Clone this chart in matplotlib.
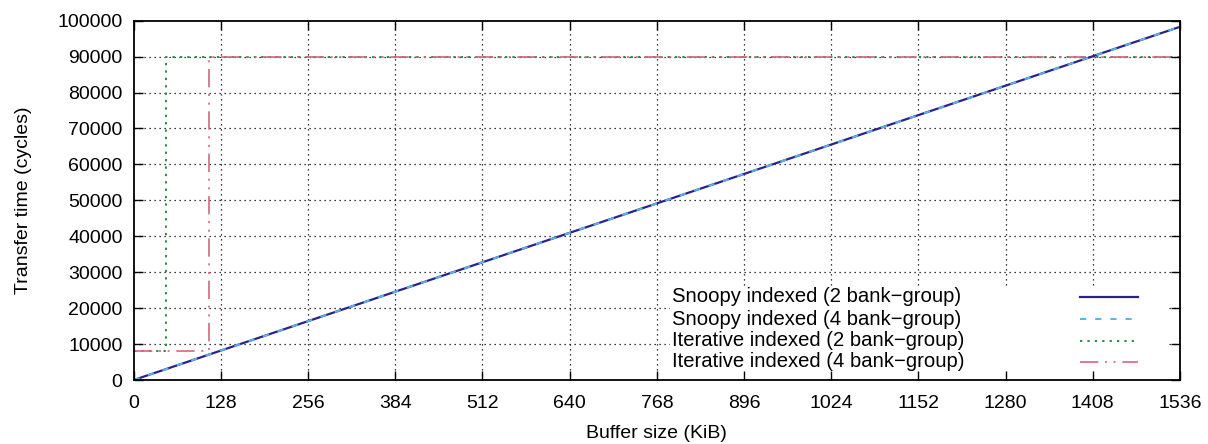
import matplotlib
matplotlib.use("Agg")
import matplotlib.pyplot as plt
from matplotlib.lines import Line2D
from matplotlib.patches import Rectangle

plt.rcParams['font.family'] = ['Liberation Sans', 'DejaVu Sans']

# Buffer sizes (KiB) and transfer times (cycles)
buffer_kib = [0, 128, 256, 384, 512, 640, 768, 896, 1024, 1152, 1280, 1408, 1536]
snoopy_2bg = [0, 8192, 16384, 24576, 32768, 40960, 49152, 57344, 65536,
              73728, 81920, 90112, 98304]
snoopy_4bg = [0, 8192, 16384, 24576, 32768, 40960, 49152, 57344, 65536,
              73728, 81920, 90112, 98304]

iter_2bg_x = [0, 47, 47, 1536]
iter_2bg_y = [8200, 8200, 90000, 90000]
iter_4bg_x = [0, 111, 111, 1536]
iter_4bg_y = [8200, 8200, 90000, 90000]

x_ticks = [0, 128, 256, 384, 512, 640, 768, 896, 1024, 1152, 1280, 1408, 1536]
y_ticks = [0, 10000, 20000, 30000, 40000, 50000, 60000, 70000, 80000, 90000, 100000]

labels = ["Snoopy indexed (2 bank\u2212group)",
          "Snoopy indexed (4 bank\u2212group)",
          "Iterative indexed (2 bank\u2212group)",
          "Iterative indexed (4 bank\u2212group)"]

c_s2 = "#2a238a"
c_s4 = "#5ab4e6"
c_i2 = "#2e8b4a"
c_i4 = "#d4667e"

W, H = 1208, 444
fig = plt.figure(figsize=(W / 100, H / 100), dpi=100)
ax = fig.add_axes([133.7 / W, 1 - 380 / H, (1180 - 133.7) / W, (380 - 20.7) / H])

styles = [
    dict(color=c_s2, lw=1.6, ls="-"),
    dict(color=c_s4, lw=1.4, ls=(0, (3.2, 4.6))),
    dict(color=c_i2, lw=1.4, ls=(0, (1.2, 2.6))),
    dict(color=c_i4, lw=1.2, ls=(0, (11, 4, 1.2, 4, 1.2, 4))),
]

ax.set_xlim(0, 1536)
ax.set_ylim(0, 100000)
ax.set_xticks(x_ticks)
ax.set_yticks(y_ticks)

# dotted grid drawn beneath everything else
grid_style = dict(color="black", ls=(0, (1, 3)), lw=0.9, zorder=1)
for xv in x_ticks[1:-1]:
    ax.axvline(xv, **grid_style)
for yv in y_ticks[1:-1]:
    ax.axhline(yv, **grid_style)

# opaque key background hides the grid behind the key
key_left, key_right, key_top, key_bottom = 670, 1167, 287, 380
ax.add_patch(Rectangle((key_left / W, 1 - key_bottom / H),
                       (key_right - key_left) / W, (key_bottom - key_top) / H,
                       transform=fig.transFigure, facecolor="white",
                       edgecolor="none", zorder=2, clip_on=False))

ax.plot(buffer_kib, snoopy_2bg, **styles[0], zorder=4)
ax.plot(buffer_kib, snoopy_4bg, **styles[1], zorder=5)
ax.plot(iter_2bg_x, iter_2bg_y, **styles[2], zorder=3)
ax.plot(iter_4bg_x, iter_4bg_y, **styles[3], zorder=3)

ax.tick_params(direction="in", length=6.5, width=1, top=True, right=True,
               labelsize=14, colors="black")
ax.tick_params(axis="x", pad=11)
ax.tick_params(axis="y", pad=8)
ax.xaxis.set_zorder(6)
ax.yaxis.set_zorder(6)
for s in ax.spines.values():
    s.set_linewidth(1.3)
    s.set_zorder(7)

ax.set_xlabel("Buffer size (KiB)", fontsize=14, labelpad=9)
ax.set_ylabel("Transfer time (cycles)", fontsize=14, labelpad=18)

# key entries: left-justified text, line sample on the right
row_y = [296.7, 319.0, 340.5, 361.5]
text_x = 672
sample_x0, sample_x1 = 1080, 1138
for lab, st, yp in zip(labels, styles, row_y):
    fy = 1 - yp / H
    fig.text(text_x / W, fy, lab, fontsize=14.6, ha="left", va="center",
             zorder=10)
    fig.add_artist(Line2D([sample_x0 / W, sample_x1 / W], [fy, fy],
                          transform=fig.transFigure, zorder=10, **st))

fig.savefig("out.png", dpi=100)
